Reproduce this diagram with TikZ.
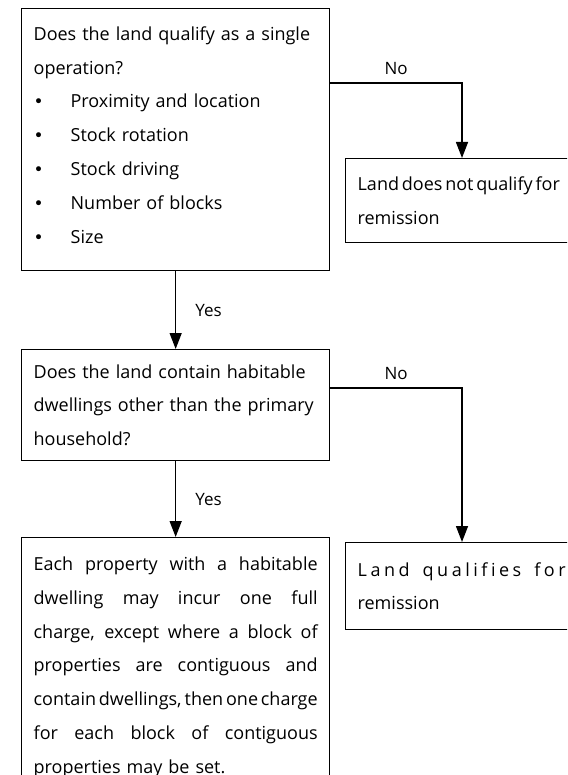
\documentclass[tikz,border=0pt]{standalone}
\usepackage{fontspec}
\setmainfont{Open Sans}
\newfontfamily\bulfont{DejaVu Sans}
\usetikzlibrary{arrows.meta}
\begin{document}
\begin{tikzpicture}[x=1pt,y=1pt,
  box/.style={draw, line width=1.3pt, anchor=north west, align=left,
    inner xsep=12pt, inner ysep=0pt, font=\fontsize{18}{33.8}\selectfont},
  arr/.style={line width=1.4pt, -{Triangle[length=16pt,width=12pt]}},
  lbl/.style={font=\fontsize{17}{18}\selectfont, inner sep=0pt}]
\useasboundingbox (0,0) rectangle (567,-775);
\clip (0,0) rectangle (567,-775);
\fill[white] (0,0) rectangle (567,-775);
\newcommand{\mybul}{\makebox[37pt][l]{{\bulfont\fontsize{17}{18}\selectfont\textbullet}}}
\newcommand{\jline}[1]{\makebox[\linewidth][s]{\spaceskip=\fontdimen2\font plus 30pt\relax #1}}
\newcommand{\tline}[1]{\makebox[\linewidth][s]{\spaceskip=1.5pt plus 30pt\relax #1}}
\node[box, text width=284pt, minimum height=262pt] (q1) at (21,-8)
 {Does the land qualify as a single\\
  operation?\\
  \mybul Proximity and location\\
  \mybul Stock rotation\\
  \mybul Stock driving\\
  \mybul Number of blocks\\
  \mybul Size\\[-24pt]\mbox{}};
\node[box, text width=210pt, minimum height=84pt] (r1) at (345,-158)
 {\makebox[210pt][l]{\spaceskip=2.8pt plus 2pt\relax Land does not qualify for}\\ remission};
\node[box, text width=284pt, minimum height=111pt] (q2) at (21,-349)
 {Does the land contain habitable\\
  dwellings other than the primary\\
  household?};
\node[box, text width=210pt, minimum height=87pt] (r2) at (345,-542)
 {\makebox[208pt][s]{L\hfill a\hfill n\hfill d\hfill\ \hfill q\hfill u\hfill a\hfill l\hfill i\hfill f\hfill i\hfill e\hfill s\hfill\ \hfill f\hfill o\hfill r}\\ remission};
\node[box, text width=284pt, minimum height=259pt] (q3) at (21,-537)
 {\jline{Each property with a habitable}\\
  \jline{dwelling may incur one full}\\
  \jline{charge, except where a block of}\\
  \jline{properties are contiguous and}\\
  \tline{contain dwellings, then one charge}\\
  \jline{for each block of contiguous}\\
  properties may be set.};
\draw[arr] (q1.south) -- node[lbl, right=19pt] {Yes} (q2.north);
\draw[arr] (q2.south) -- node[lbl, right=19pt] {Yes} (q3.north);
\draw[arr] ([yshift=-75pt]q1.north east) -| node[lbl, pos=0.25, above=8pt] {No} ([xshift=117pt]r1.north west);
\draw[arr] ([yshift=-39pt]q2.north east) -| node[lbl, pos=0.25, above=8pt] {No} ([xshift=117pt]r2.north west);
\end{tikzpicture}
\end{document}
